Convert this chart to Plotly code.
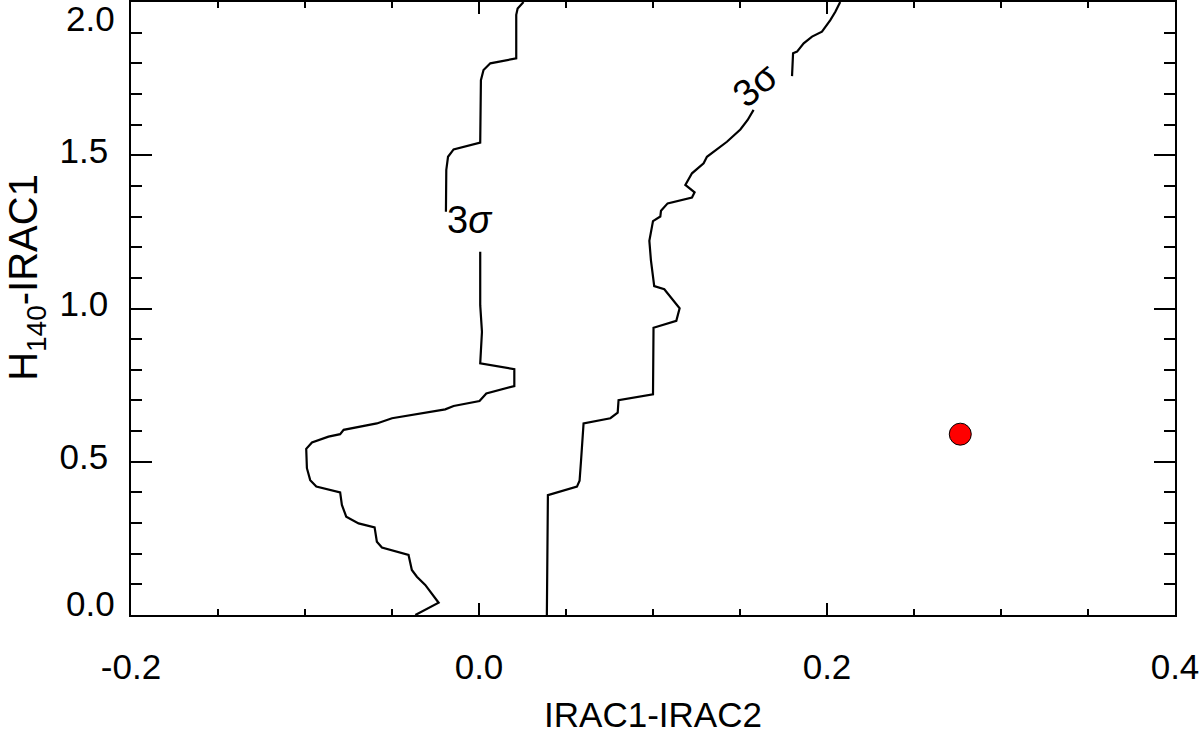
import plotly.graph_objects as go

# contour 1 (left), split where the "3σ" label breaks the line
left_x_upper = [0.0256, 0.0222, 0.0214, 0.0214, 0.0065, 0.0026, 0.0011, 0.0007, -0.0146, -0.0178, -0.0188, -0.0190]
left_y_upper = [2.0, 1.979, 1.958, 1.816, 1.800, 1.778, 1.745, 1.541, 1.519, 1.495, 1.452, 1.316]
left_x_lower = [0.0007, 0.0007, 0.0017, 0.0007, 0.0203, 0.0203, 0.0042, 0.0003, -0.0146, -0.0194,
                -0.0500, -0.0587, -0.0778, -0.0798, -0.0865, -0.0960, -0.0993, -0.0989, -0.0970, -0.0935,
                -0.0798, -0.0788, -0.0763, -0.0692, -0.0600, -0.0587, -0.0558, -0.0405, -0.0386, -0.0357,
                -0.0309, -0.0280, -0.0232, -0.0366]
left_y_lower = [1.185, 1.011, 0.924, 0.821, 0.802, 0.747, 0.723, 0.698, 0.682, 0.671,
                0.642, 0.625, 0.604, 0.590, 0.582, 0.563, 0.542, 0.479, 0.440, 0.419,
                0.400, 0.359, 0.321, 0.299, 0.286, 0.239, 0.220, 0.196, 0.147, 0.125,
                0.098, 0.076, 0.040, 0.0]

# contour 2 (right)
right_x_lower = [0.0390, 0.0396, 0.0563, 0.0578, 0.0586, 0.0601, 0.0755, 0.0797, 0.0802, 0.1000,
                 0.1003, 0.1134, 0.1153, 0.1122, 0.1080, 0.1065, 0.1007, 0.0988, 0.0979, 0.1000,
                 0.1042, 0.1046, 0.1084, 0.1224, 0.1239, 0.1186, 0.1224, 0.1291, 0.1310, 0.1425,
                 0.1502, 0.1544, 0.1578]
right_y_lower = [0.0, 0.391, 0.419, 0.438, 0.500, 0.625, 0.642, 0.660, 0.701, 0.720,
                 0.937, 0.960, 1.001, 1.022, 1.050, 1.063, 1.073, 1.158, 1.221, 1.285,
                 1.300, 1.319, 1.343, 1.362, 1.379, 1.403, 1.441, 1.474, 1.495, 1.544,
                 1.584, 1.615, 1.648]
right_x_upper = [0.1799, 0.1805, 0.1828, 0.1866, 0.1914, 0.1971, 0.2019, 0.2048, 0.2076]
right_y_upper = [1.758, 1.833, 1.838, 1.865, 1.887, 1.903, 1.941, 1.968, 2.0]

# object colour
obj_x = [0.2766]
obj_y = [0.590]

x_tick_vals = [-0.2, 0.0, 0.2, 0.4]
x_tick_text = ["-0.2", "0.0", "0.2", "0.4"]
y_tick_vals = [0.5, 1.0, 1.5]
y_tick_text = ["0.5", "1.0", "1.5"]
# the end labels of the y axis are drawn inside the frame
y_edge_vals = [0.0, 2.0]
y_edge_text = ["0.0", "2.0"]
y_edge_shift = [12, -16]

FONT = "Liberation Sans, Arial, Helvetica, sans-serif"

fig = go.Figure()
for xs, ys in [(left_x_upper, left_y_upper), (left_x_lower, left_y_lower),
               (right_x_lower, right_y_lower), (right_x_upper, right_y_upper)]:
    fig.add_trace(go.Scatter(x=xs, y=ys, mode="lines",
                             line=dict(color="black", width=2.2), hoverinfo="skip"))

fig.add_trace(go.Scatter(x=obj_x, y=obj_y, mode="markers",
                         marker=dict(color="#ff0000", size=22, line=dict(color="black", width=1))))

axis_common = dict(
    showline=True, linecolor="black", linewidth=1.5, mirror="ticks",
    ticks="inside", tickcolor="black", tickwidth=1.5,
    showgrid=False, zeroline=False, automargin=False,
    tickfont=dict(family=FONT, size=35, color="black"),
)

fig.update_xaxes(
    range=[-0.2, 0.4], tickvals=x_tick_vals, ticktext=x_tick_text, ticklen=12,
    minor=dict(dtick=0.05, tick0=0, ticks="inside", ticklen=6, tickcolor="black", tickwidth=1.5),
    ticklabelstandoff=20,
    title=dict(text="IRAC1-IRAC2", font=dict(family=FONT, size=35, color="black"), standoff=24),
    **axis_common,
)
fig.update_yaxes(
    range=[0.0, 2.0], tickvals=y_tick_vals, ticktext=y_tick_text, ticklen=21,
    minor=dict(dtick=0.1, tick0=0, ticks="inside", ticklen=11, tickcolor="black", tickwidth=1.5),
    ticklabelshift=-5, ticklabelstandoff=14,
    **axis_common,
)

annotations = [
    dict(x=0, xref="paper", xanchor="right", xshift=-14, y=v, yref="y", yshift=s,
         text=t, showarrow=False, font=dict(family=FONT, size=35, color="black"))
    for v, t, s in zip(y_edge_vals, y_edge_text, y_edge_shift)
]
annotations += [
    # y axis title
    dict(x=0, xref="paper", xanchor="center", xshift=-105, y=1.10, yref="y",
         text="H<sub>140</sub>-IRAC1", textangle=-90, showarrow=False,
         font=dict(family=FONT, size=40, color="black")),
    # contour labels
    dict(x=-0.005, y=1.289, text="3<i>σ</i>", showarrow=False,
         font=dict(family=FONT, size=38, color="black")),
    dict(x=0.1588, y=1.729, text="3σ", textangle=-40, showarrow=False,
         font=dict(family=FONT, size=38, color="black")),
]

fig.update_layout(
    width=1200, height=734,
    margin=dict(l=131, r=25, t=2, b=119),
    plot_bgcolor="white", paper_bgcolor="white",
    showlegend=False,
    annotations=annotations,
)

# drop the page's default body margin so the figure sits at the window corner
fig.write_html("out.html", config={"displayModeBar": False},
               post_script="document.body.style.margin='0';")
